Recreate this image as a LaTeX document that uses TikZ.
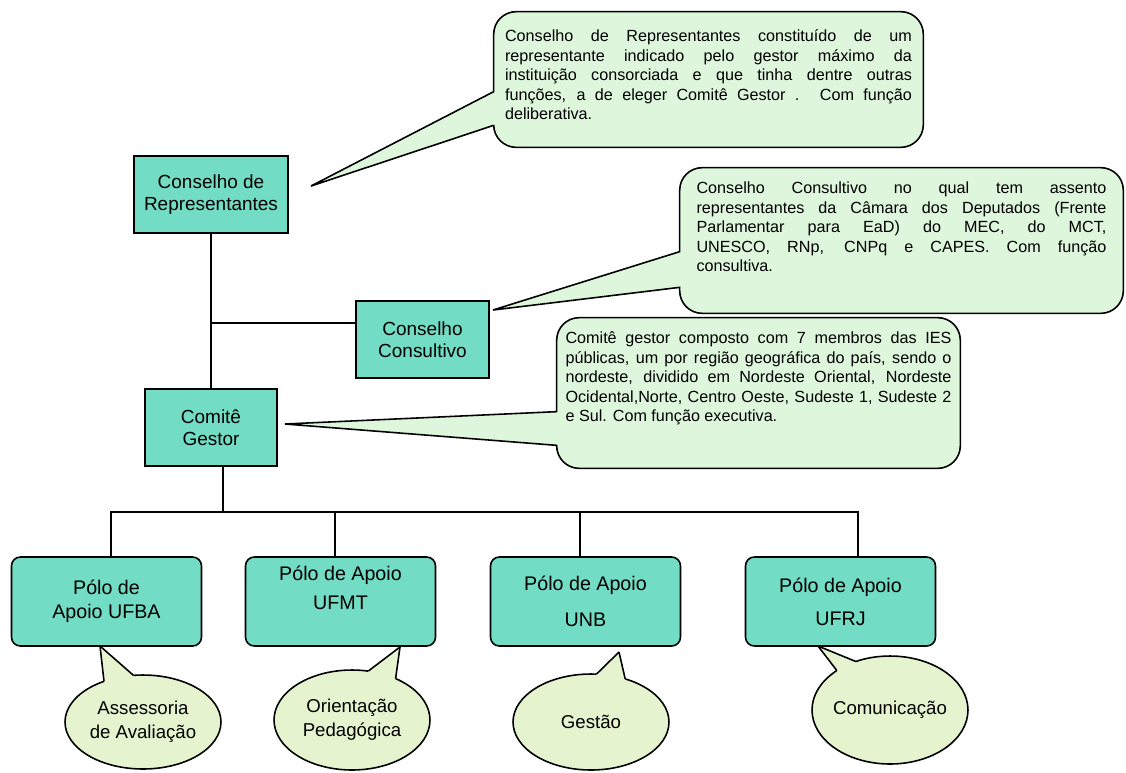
\documentclass[tikz,border=0pt]{standalone}
\usepackage{fontspec}
\setmainfont{Liberation Sans}
\usetikzlibrary{calc, backgrounds}

\definecolor{boxteal}{HTML}{72DCC4}
\definecolor{notegreen}{HTML}{DDF6DC}
\definecolor{bubblegreen}{HTML}{E5F3CF}

\tikzstyle{orgbox} = [
    rectangle,
    draw=black,
    fill=boxteal,
    line width=0.9pt,
    inner sep=0pt,
    align=center,
    minimum height=1.54cm,
    font=\fontsize{10.8}{12.8}\selectfont
]
\tikzstyle{polo} = [
    orgbox,
    rounded corners=5pt,
    minimum width=3.8cm,
    minimum height=1.78cm,
    font=\fontsize{11.2}{13.6}\selectfont
]
\tikzstyle{note} = [
    rectangle,
    inner sep=0pt,
    align=justify,
    font=\fontsize{9.2}{11.1}\selectfont
]
\tikzstyle{notefill} = [draw=black, fill=notegreen, line width=0.9pt]
\tikzstyle{bubble} = [inner sep=0pt, align=center, font=\fontsize{10.6}{13.6}\selectfont]
\tikzstyle{bubblefill} = [draw=black, fill=bubblegreen, line width=0.9pt]
\tikzstyle{link} = [line width=0.9pt]

\begin{document}
\begin{tikzpicture}[x=0.02cm, y=-0.02cm]
\useasboundingbox (0,0) rectangle (1126,772);

% organograma
\node (rep) [orgbox, minimum width=3.08cm] at (211,194.5)
{Conselho de\\Representantes};

\node (consultivo) [orgbox, minimum width=2.66cm] at (422.5,339.5)
{Conselho\\Consultivo};

\node (gestor) [orgbox, minimum width=2.64cm] at (211,427.5)
{Comitê\\Gestor};

\node (ufba) [polo] at (106.5,601.5) {Pólo de\\Apoio UFBA};
\node (ufmt) [polo, text depth=0.55cm] at (340.5,601.5) {Pólo de Apoio\\[3pt]UFMT};
\node (unb) [polo] at (585.5,601.5) {Pólo de Apoio\\[7pt]UNB};
\node (ufrj) [polo] at (840.5,601.5) {Pólo de Apoio\\[5pt]UFRJ};

% baloes
\node (repnote) [note, text width=8.14cm, minimum width=8.58cm, minimum height=2.7cm,
    text depth=1.75cm] at (708.5,79.5)
{Conselho de Representantes constituído de um\linebreak
representante indicado pelo gestor máximo da\linebreak
instituição consorciada e que tinha dentre outras\linebreak
funções, a de eleger Comitê Gestor . Com função\linebreak
deliberativa.};

\node (consnote) [note, text width=8.2cm, minimum width=8.86cm, minimum height=2.9cm,
    text depth=2.1cm] at (901.5,240.5)
{Conselho Consultivo no qual tem assento\linebreak
representantes da Câmara dos Deputados (Frente\linebreak
Parlamentar para EaD) do MEC, do MCT,\linebreak
UNESCO, RNp, CNPq e CAPES. Com função\linebreak
consultiva.};

\node (gestnote) [note, text width=7.72cm, minimum width=8.06cm, minimum height=3.0cm,
    text depth=2.2cm] at (758.5,393)
{Comitê gestor composto com 7 membros das IES\linebreak
públicas, um por região geográfica do país, sendo o\linebreak
nordeste, dividido em Nordeste Oriental, Nordeste\linebreak
Ocidental,Norte, Centro Oeste, Sudeste 1, Sudeste 2\linebreak
e Sul. Com função executiva.};

\node (avaliacao) [bubble] at (143,722) {Assessoria\\de Avaliação};
\node (pedagogica) [bubble] at (352,720) {Orientação\\Pedagógica};
\node (gestao) [bubble] at (591,722) {Gestão};
\node (comunicacao) [bubble] at (890,710) {Comunicação};

\coordinate (reptip) at (311,186);
\coordinate (constip) at (493,310);
\coordinate (gesttip) at (285,424);
\coordinate (t1) at (100,646);
\coordinate (t2) at (400,647);
\coordinate (t3) at (619,652);
\coordinate (t4) at (818,646);

% linhas
\coordinate (junc) at (211,323);
\coordinate (bus) at (223,512);
\draw [link] (rep) -- (gestor);
\draw [link] (junc) -- (junc -| consultivo.west);
\draw [link] (gestor.south -| bus) -- (bus);
\foreach \polo/\dx in {ufba/4.5, ufmt/-5.5, unb/-5.5, ufrj/17.5}
    \draw [link] ([xshift=\dx*0.02cm]\polo.north) |- (bus);

\begin{scope}[on background layer]
\path [notefill] (reptip) -- ([yshift=-1.6cm]repnote.north west)
    [rounded corners=0.45cm] -- (repnote.north west) -- (repnote.north east)
    -- (repnote.south east) -- (repnote.south west)
    [sharp corners] -- ([yshift=0.44cm]repnote.south west) -- cycle;
\path [notefill] (constip) -- ([yshift=-1.68cm]consnote.north west)
    [rounded corners=0.45cm] -- (consnote.north west) -- (consnote.north east)
    -- (consnote.south east) -- (consnote.south west)
    [sharp corners] -- ([yshift=0.52cm]consnote.south west) -- cycle;
\path [notefill] (gesttip) -- ([yshift=-1.88cm]gestnote.north west)
    [rounded corners=0.45cm] -- (gestnote.north west) -- (gestnote.north east)
    -- (gestnote.south east) -- (gestnote.south west)
    [sharp corners] -- ([yshift=0.46cm]gestnote.south west) -- cycle;

\foreach \b/\ry/\tip/\p/\q in {avaliacao/0.94cm/t1/120/97, pedagogica/1.0cm/t2/78/56,
        gestao/0.96cm/t3/86/64, comunicacao/1.08cm/t4/133/116} {
    \filldraw [bubblefill] (\b.center) ellipse [x radius=1.56cm, y radius=\ry];
    \fill [bubblegreen] (\tip) -- ($(\b.center)+(\p:1.56cm and \ry)$)
        -- ($(\b.center)+(\p:1.2cm and 0.6cm)$) -- ($(\b.center)+(\q:1.2cm and 0.6cm)$)
        -- ($(\b.center)+(\q:1.56cm and \ry)$) -- cycle;
    \draw [link] (\tip) -- ($(\b.center)+(\p:1.56cm and \ry)$);
    \draw [link] (\tip) -- ($(\b.center)+(\q:1.56cm and \ry)$);
}
\end{scope}

\end{tikzpicture}
\end{document}
